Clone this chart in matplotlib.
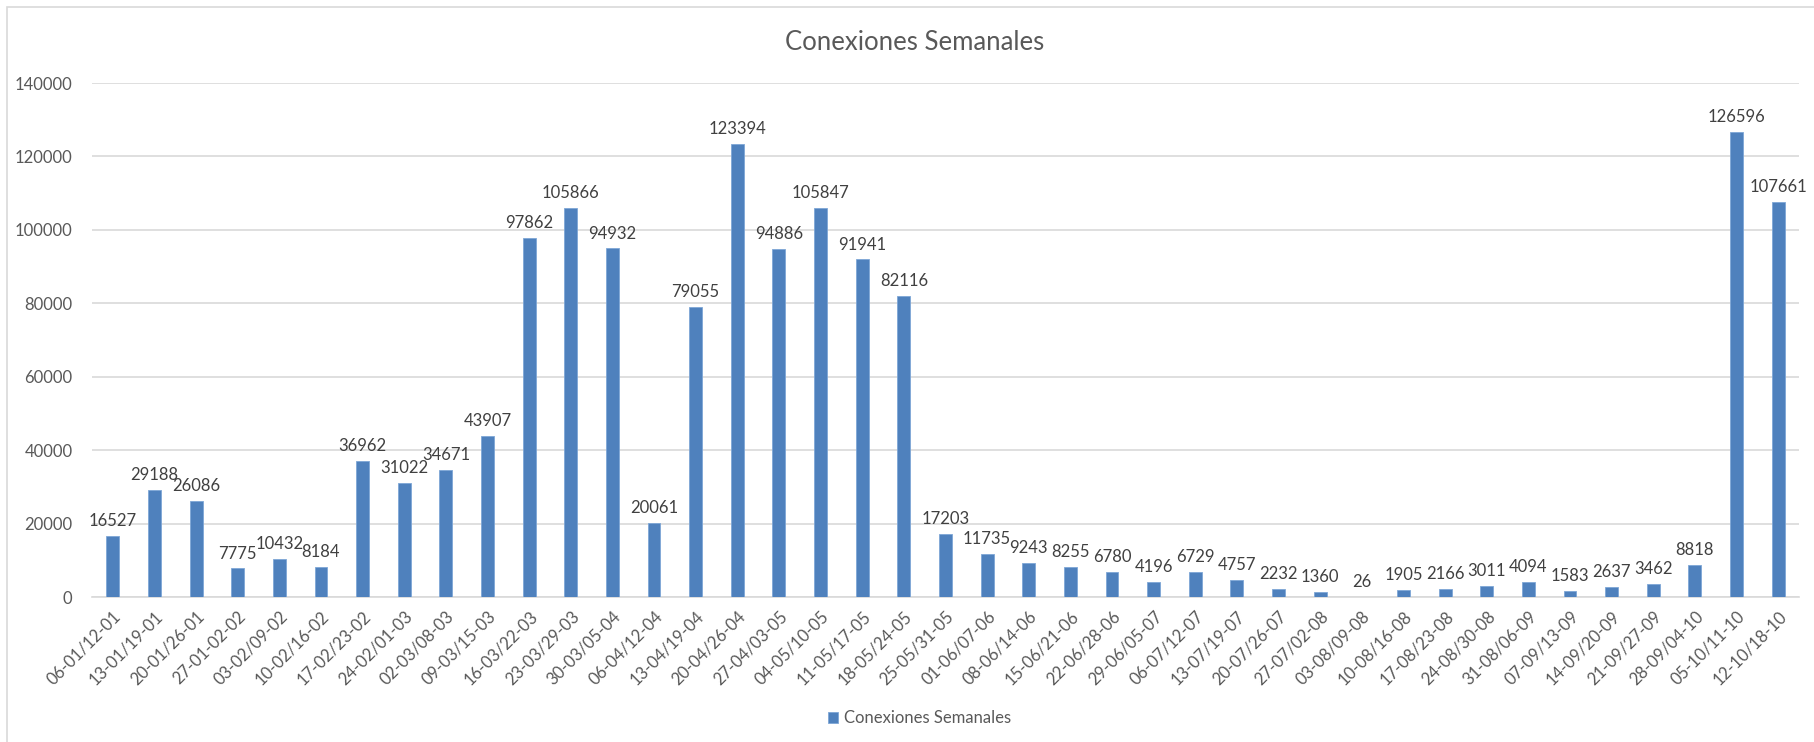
import matplotlib.pyplot as plt
import numpy as np
from matplotlib.patches import Rectangle

semanas = ["06-01/12-01", "13-01/19-01", "20-01/26-01", "27-01-02-02", "03-02/09-02",
           "10-02/16-02", "17-02/23-02", "24-02/01-03", "02-03/08-03", "09-03/15-03",
           "16-03/22-03", "23-03/29-03", "30-03/05-04", "06-04/12-04", "13-04/19-04",
           "20-04/26-04", "27-04/03-05", "04-05/10-05", "11-05/17-05", "18-05/24-05",
           "25-05/31-05", "01-06/07-06", "08-06/14-06", "15-06/21-06", "22-06/28-06",
           "29-06/05-07", "06-07/12-07", "13-07/19-07", "20-07/26-07", "27-07/02-08",
           "03-08/09-08", "10-08/16-08", "17-08/23-08", "24-08/30-08", "31-08/06-09",
           "07-09/13-09", "14-09/20-09", "21-09/27-09", "28-09/04-10", "05-10/11-10",
           "12-10/18-10"]
conexiones = [16527, 29188, 26086, 7775, 10432, 8184, 36962, 31022, 34671, 43907,
              97862, 105866, 94932, 20061, 79055, 123394, 94886, 105847, 91941, 82116,
              17203, 11735, 9243, 8255, 6780, 4196, 6729, 4757, 2232, 1360,
              26, 1905, 2166, 3011, 4094, 1583, 2637, 3462, 8818, 126596,
              107661]
y_ticks = [0, 20000, 40000, 60000, 80000, 100000, 120000, 140000]

plt.rcParams['font.family'] = ['Lato', 'DejaVu Sans']
gris = '#595959'
azul = '#4F81BD'

fig = plt.figure(figsize=(18.14, 7.42), dpi=100)
ax = fig.add_axes([0.0507, 0.1954, 0.941, 0.6927])

x = np.arange(len(semanas))
barras = ax.bar(x, conexiones, 0.31, color=azul, edgecolor='#7EA6D6', linewidth=0.6,
                label='Conexiones Semanales', zorder=3)

for rect, v in zip(barras, conexiones):
    ax.annotate(str(v), xy=(rect.get_x() + rect.get_width() / 2, v),
                xytext=(0, 5), textcoords='offset points',
                ha='center', va='bottom', fontsize=12, color='#404040')

ax.set_xlim(-0.5, len(semanas) - 0.5)
ax.set_ylim(0, 140000)
ax.set_yticks(y_ticks)
ax.set_yticklabels([str(t) for t in y_ticks], fontsize=12, color=gris)
ax.set_xticks(x)
ax.set_xticklabels(semanas, rotation=45, ha='right', rotation_mode='anchor',
                   fontsize=12, color=gris)
ax.tick_params(axis='both', length=0)
ax.tick_params(axis='y', pad=14)
ax.tick_params(axis='x', pad=8)
ax.grid(axis='y', color='#D9D9D9', linewidth=1.2, zorder=0)
for s in ['top', 'right', 'left']:
    ax.spines[s].set_visible(False)
ax.spines['bottom'].set_color('#D9D9D9')
ax.spines['bottom'].set_linewidth(1.2)

fig.text(0.504, 0.943, 'Conexiones Semanales', ha='center', va='center',
         fontsize=18.5, color=gris)

fig.legend(handles=[barras], labels=['Conexiones Semanales'], loc='center',
           bbox_to_anchor=(0.507, 0.032), frameon=False, fontsize=12,
           handlelength=0.6, handleheight=0.6, handletextpad=0.4, labelcolor=gris)

# borde del grafico
fig.patches.append(Rectangle((7 / 1814, -0.1), 1.0, 1.0 - 7 / 742 + 0.1,
                             transform=fig.transFigure, fill=False,
                             edgecolor='#D9D9D9', linewidth=1.2))

fig.savefig('out.png', dpi=100)
